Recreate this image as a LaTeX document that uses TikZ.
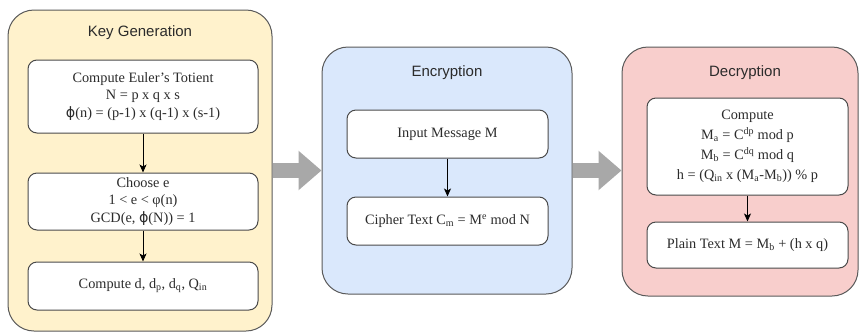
\documentclass[tikz,border=0pt]{standalone}
\usepackage{fontspec}
\setmainfont{Liberation Serif}
\newfontfamily\titlefont{Liberation Sans}
\newfontfamily\symfont{DejaVu Sans}
\usetikzlibrary{arrows.meta}

\definecolor{keyfill}{HTML}{FFF2CC}
\definecolor{encfill}{HTML}{DAE8FC}
\definecolor{decfill}{HTML}{F8CECC}
\definecolor{panelline}{HTML}{5A5A5A}
\definecolor{boxline}{HTML}{4A4A4A}
\definecolor{textgrey}{HTML}{2B2B2B}
\definecolor{arrowgrey}{HTML}{A8A8A8}

\newcommand\bphi{{\symfont ϕ}}

\tikzset{
  panel/.style={draw=panelline, line width=1pt, rounded corners=26pt, inner sep=0pt},
  paneltitle/.style={font=\titlefont\fontsize{15}{18}\selectfont, text=textgrey},
  stepbox/.style={draw=boxline, fill=white, line width=1pt, rounded corners=9pt,
    align=center, inner sep=0pt, text=textgrey,
    font=\fontsize{14.3}{17.5}\selectfont},
  flow/.style={-{Stealth[length=8pt,width=7pt,inset=2pt]}, line width=0.9pt, draw=black},
  bigarrow/.style={-{Triangle[length=23pt,width=38pt]}, line width=15pt, draw=arrowgrey},
}

\begin{document}
\begin{tikzpicture}[x=1pt,y=-1pt]
\useasboundingbox[fill=white] (0,0) rectangle (860,333);

% the three stage panels
\node[panel, fill=keyfill, minimum width=264pt, minimum height=321pt] (keygen) at (140,170.5) {};
\node[panel, fill=encfill, minimum width=250pt, minimum height=247pt] (enc) at (447,170.5) {};
\node[panel, fill=decfill, minimum width=236pt, minimum height=249pt] (dec) at (740,171.5) {};

\node[paneltitle] (keytitle) at (140,33) {Key Generation};
\node[paneltitle] (enctitle) at (447,73) {Encryption};
\node[paneltitle] (dectitle) at (745,73) {Decryption};

% key generation steps
\node[stepbox, minimum width=230pt, minimum height=73pt] (totient) at (143,96.5)
  {Compute Euler’s Totient\\ N = p x q x s\\ \bphi(n) = (p-1) x (q-1) x (s-1)};
\node[stepbox, minimum width=230pt, minimum height=57pt] (choose) at (143,201.5)
  {Choose e\\ 1 < e < φ(n)\\ GCD(e, \bphi(N)) = 1};
\node[stepbox, minimum width=230pt, minimum height=48pt] (keys) at (143,286)
  {Compute d, d\textsubscript{p}, d\textsubscript{q}, Q\textsubscript{in}};

% encryption steps
\node[stepbox, minimum width=201pt, minimum height=48pt] (input) at (447.5,134)
  {Input Message M};
\node[stepbox, minimum width=201pt, minimum height=48pt] (cipher) at (447.5,221)
  {Cipher Text C\textsubscript{m} = M\textsuperscript{e} mod N};

% decryption steps
\node[stepbox, minimum width=201pt, minimum height=97pt,
      font=\fontsize{14.3}{20}\selectfont] (crt) at (747.5,146.5)
  {Compute\\ M\textsubscript{a} = C\textsuperscript{dp} mod p\\
   M\textsubscript{b} = C\textsuperscript{dq} mod q\\
   h = (Q\textsubscript{in} x (M\textsubscript{a}-M\textsubscript{b})) \% p};
\node[stepbox, minimum width=201pt, minimum height=46pt] (plain) at (747.5,245)
  {Plain Text M = M\textsubscript{b} + (h x q)};

% flow inside the panels
\draw[flow] (totient) -- (choose);
\draw[flow] (choose) -- (keys);
\draw[flow] (input) -- (cipher);
\draw[flow] (crt) -- (plain);

% flow between the panels
\draw[bigarrow] (keygen.east) -- (enc.west);
\draw[bigarrow] (enc.east) -- (dec.west |- enc.east);
\end{tikzpicture}
\end{document}
